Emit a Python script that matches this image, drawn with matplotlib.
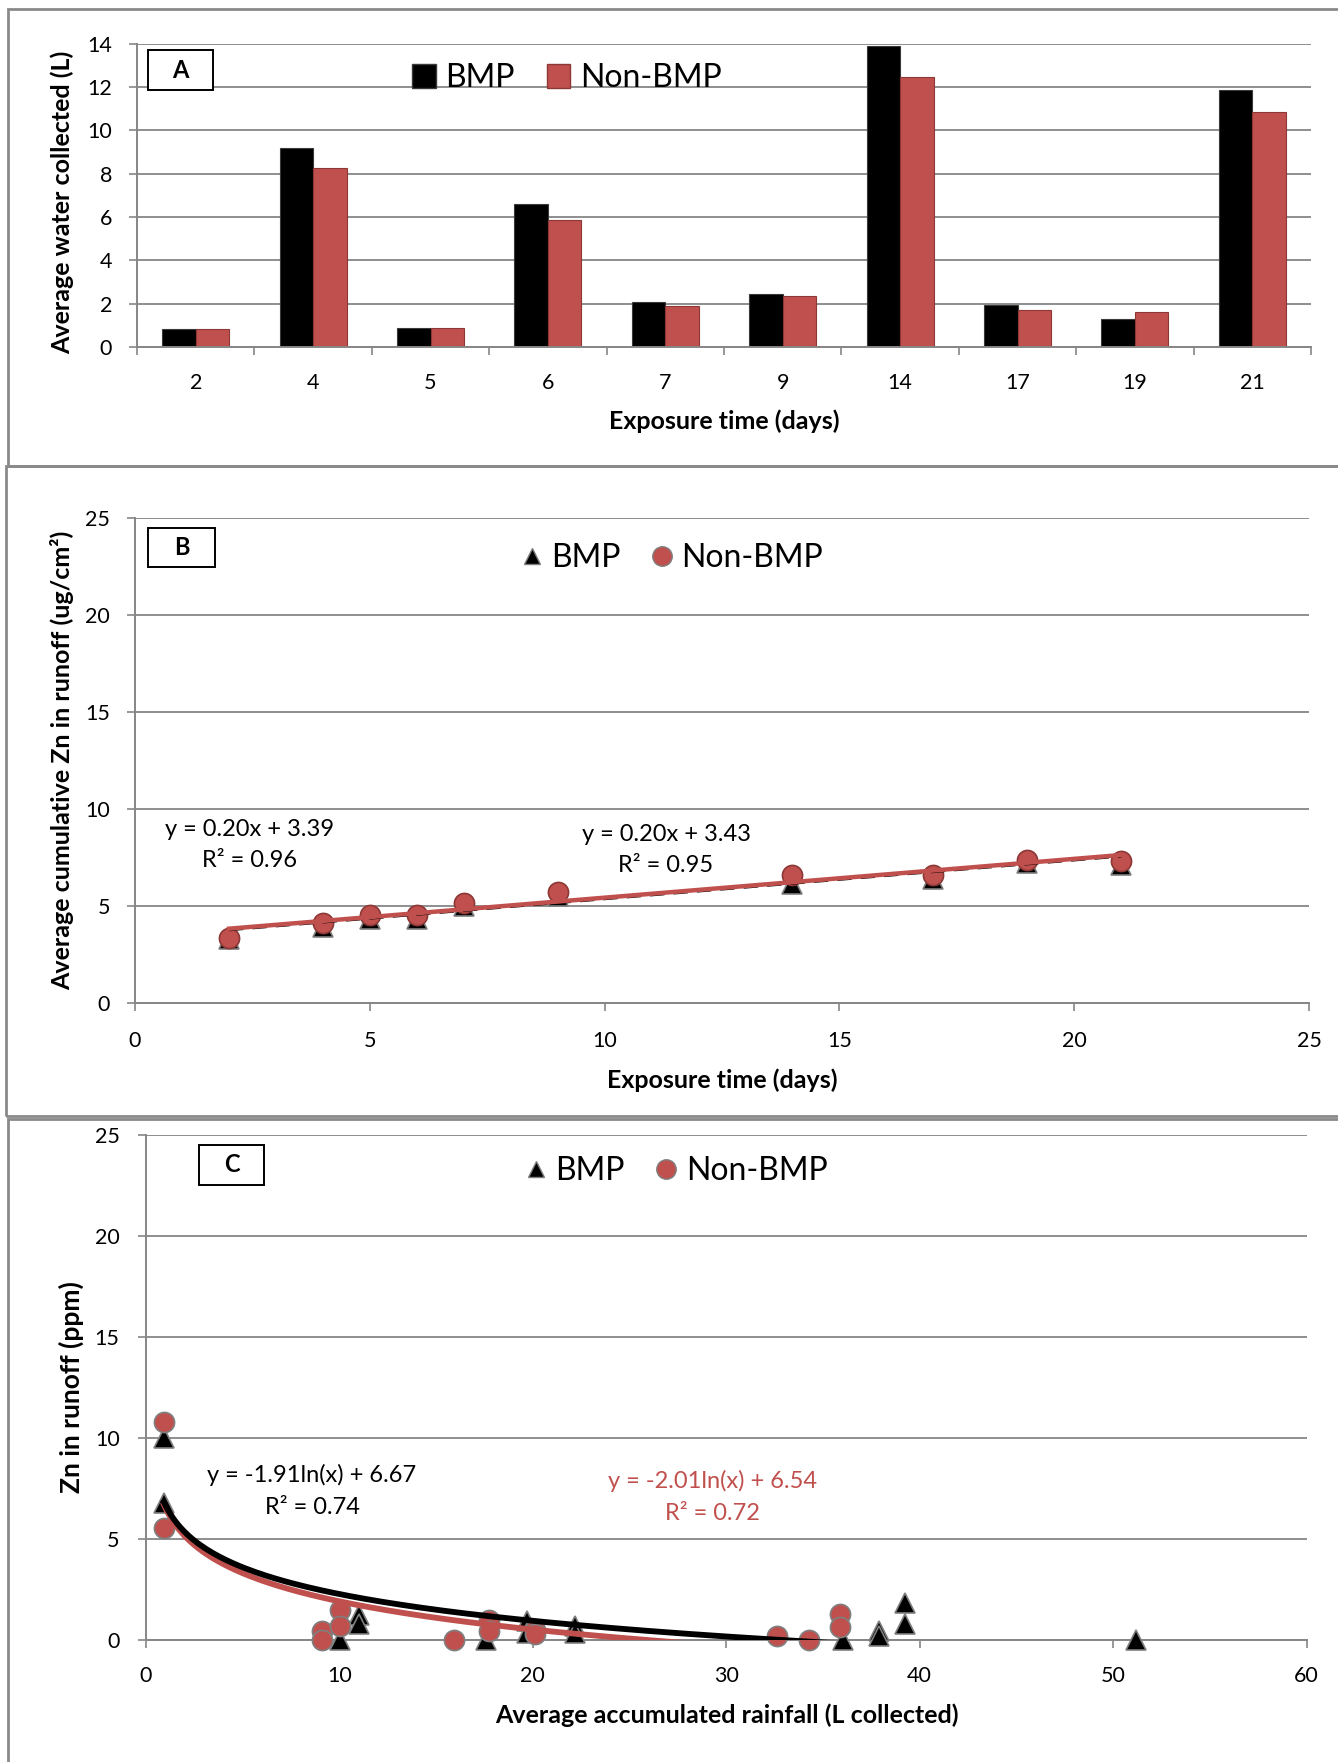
import numpy as np
import matplotlib.pyplot as plt
from matplotlib.patches import Patch, Rectangle
from matplotlib.lines import Line2D

plt.rcParams['font.family'] = ['Lato', 'DejaVu Sans']

# ---- data ----
days = ['2', '4', '5', '6', '7', '9', '14', '17', '19', '21']
water_bmp = [0.85, 9.2, 0.88, 6.6, 2.06, 2.43, 13.88, 1.94, 1.31, 11.86]
water_non = [0.82, 8.25, 0.88, 5.86, 1.91, 2.36, 12.46, 1.72, 1.62, 10.84]

days_num = [2, 4, 5, 6, 7, 9, 14, 17, 19, 21]
zn_bmp = [3.3, 3.9, 4.35, 4.35, 5.0, 5.5, 6.13, 6.4, 7.2, 7.1]
zn_non = [3.36, 4.12, 4.55, 4.52, 5.17, 5.72, 6.62, 6.58, 7.38, 7.33]
fit_b_bmp = (0.20, 3.39)
fit_b_non = (0.20, 3.43)

rain_bmp = [0.93, 0.93, 10.05, 11.0, 11.0, 17.6, 19.7, 19.7, 22.2, 22.2, 36.05, 37.9, 37.9, 39.25, 39.25, 51.2]
ppm_bmp = [10.0, 6.8, 0.0, 1.25, 0.8, 0.0, 0.95, 0.35, 0.7, 0.35, 0.0, 0.45, 0.2, 1.85, 0.8, 0.0]
rain_non = [0.93, 0.93, 9.1, 9.1, 10.05, 10.05, 15.9, 17.75, 17.75, 20.1, 20.1, 32.6, 34.3, 35.9, 35.9]
ppm_non = [10.8, 5.55, 0.45, 0.0, 1.5, 0.7, 0.0, 1.0, 0.45, 0.5, 0.3, 0.18, 0.02, 1.3, 0.65]
fit_c_bmp = (-1.91, 6.67)
fit_c_non = (-2.01, 6.54)

RED = '#C0504D'
GRID = '#868686'
W, H = 1338, 1762


def fx(x):
    return x / W


def fy(y):
    return 1 - y / H


def add_ax(x0, x1, y0, y1):
    ax = fig.add_axes([fx(x0), fy(y1), (x1 - x0) / W, (y1 - y0) / H])
    for s in ['top', 'right']:
        ax.spines[s].set_visible(False)
    for s in ['left', 'bottom']:
        ax.spines[s].set_color(GRID)
        ax.spines[s].set_linewidth(1.4)
    ax.tick_params(direction='out', length=6, width=1.2, color=GRID, labelsize=15.5)
    ax.grid(axis='y', color=GRID, lw=1.3)
    ax.set_axisbelow(True)
    return ax


def frame(x0, y0, x1, y1):
    fig.add_artist(Rectangle((fx(x0), fy(y1)), (x1 - x0) / W, (y1 - y0) / H,
                             transform=fig.transFigure, fill=False, ec='#8a8a8a', lw=2))


def letter_box(x0, y0, x1, y1, s):
    fig.add_artist(Rectangle((fx(x0), fy(y1)), (x1 - x0) / W, (y1 - y0) / H,
                             transform=fig.transFigure, fc='white', ec='black', lw=1.4, zorder=5))
    fig.text(fx((x0 + x1) / 2), fy((y0 + y1) / 2), s, ha='center', va='center',
             fontsize=17, fontweight='bold', zorder=6)


def marker_legend(ax, anchor):
    ax.legend(handles=[Line2D([], [], ls='none', marker='^', ms=12, mfc='black', mec='#7f7f7f'),
                       Line2D([], [], ls='none', marker='o', ms=14, mfc=RED, mec='#7f7f7f')],
              labels=['BMP', 'Non-BMP'], loc='center', bbox_to_anchor=anchor,
              ncol=2, frameon=False, fontsize=23, handlelength=0.6,
              handletextpad=0.3, columnspacing=1.0)


fig = plt.figure(figsize=(W / 100, H / 100), dpi=100)

frame(8, 9, 1345, 466)
frame(6, 466, 1345, 1116)
frame(8, 1119, 1345, 1770)

# ---- panel A ----
ax = add_ax(137, 1311, 43.8, 347)
x = np.arange(len(days))
w = 0.286
ax.bar(x - w / 2, water_bmp, w, color='black', ec='#3a3a3a', lw=0.8, label='BMP')
ax.bar(x + w / 2, water_non, w, color=RED, ec='#8c3836', lw=0.8, label='Non-BMP')
ax.set_xlim(-0.5, len(days) - 0.5)
ax.set_ylim(0, 14)
ax.set_yticks(range(0, 15, 2))
ax.set_xticks(np.arange(-0.5, len(days), 1))
ax.set_xticklabels([])
ax.set_xticks(x, minor=True)
ax.set_xticklabels(days, minor=True)
ax.tick_params(axis='x', which='minor', length=0, pad=19, labelsize=15.5)
ax.tick_params(axis='y', pad=12)
ax.legend(handles=[Patch(fc='black', ec='#3a3a3a'), Patch(fc=RED, ec='#8c3836')],
          labels=['BMP', 'Non-BMP'], loc='center', bbox_to_anchor=(0.366, 0.887),
          ncol=2, frameon=False, fontsize=23, handlelength=0.75, handleheight=0.75,
          handletextpad=0.3, columnspacing=1.0)
fig.text(fx(724), fy(421), 'Exposure time (days)', ha='center', va='center',
         fontsize=18, fontweight='bold')
fig.text(fx(62), fy(202), 'Average water collected (L)', ha='center', va='center',
         rotation=90, fontsize=18, fontweight='bold')
letter_box(148, 50, 213, 90, 'A')

# ---- panel B ----
ax = add_ax(135, 1309, 518, 1003)
ax.set_xlim(0, 25)
ax.set_ylim(0, 25)
ax.set_xticks(range(0, 26, 5))
ax.set_yticks(range(0, 26, 5))
ax.tick_params(axis='x', pad=14)
ax.tick_params(axis='y', pad=12)
ax.plot(days_num, zn_bmp, ls='none', marker='^', ms=14, mfc='black', mec='#7f7f7f',
        mew=1.2, zorder=3)
ax.plot(days_num, zn_non, ls='none', marker='o', ms=14.5, mfc=RED, mec='#8c3836',
        mew=1.2, zorder=4)
xl = np.array([min(days_num), max(days_num)])
ax.plot(xl, fit_b_bmp[0] * xl + fit_b_bmp[1], color='black', lw=2.6,
        dashes=(4, 2.5), zorder=5)
ax.plot(xl, fit_b_non[0] * xl + fit_b_non[1], color=RED, lw=3.2, zorder=6)
marker_legend(ax, (0.458, 0.918))
fig.text(fx(250), fy(845), 'y = 0.20x + 3.39\nR² = 0.96', ha='center', va='center',
         fontsize=17, linespacing=1.6)
fig.text(fx(666), fy(850), 'y = 0.20x + 3.43\nR² = 0.95', ha='center', va='center',
         fontsize=17, linespacing=1.6)
fig.text(fx(722), fy(1080), 'Exposure time (days)', ha='center', va='center',
         fontsize=18, fontweight='bold')
fig.text(fx(62), fy(760), 'Average cumulative Zn in runoff (ug/cm²)', ha='center',
         va='center', rotation=90, fontsize=18, fontweight='bold')
letter_box(148, 528, 215, 567, 'B')

# ---- panel C ----
ax = add_ax(146, 1306.5, 1134.6, 1640)
ax.set_xlim(0, 60)
ax.set_ylim(0, 25)
ax.set_xticks(range(0, 61, 10))
ax.set_yticks(range(0, 26, 5))
ax.tick_params(axis='x', pad=13)
ax.tick_params(axis='y', pad=13)
ax.plot(rain_bmp, ppm_bmp, ls='none', marker='^', ms=14, mfc='black', mec='#7f7f7f',
        mew=1.2, zorder=3, clip_on=False)
ax.plot(rain_non, ppm_non, ls='none', marker='o', ms=14.5, mfc=RED, mec='#7f7f7f',
        mew=1.2, zorder=4, clip_on=False)
xr = np.linspace(min(rain_non), max(rain_non), 300)
ax.plot(xr, fit_c_non[0] * np.log(xr) + fit_c_non[1], color=RED, lw=4.2, zorder=5)
xb = np.linspace(min(rain_bmp), max(rain_bmp), 300)
ax.plot(xb, fit_c_bmp[0] * np.log(xb) + fit_c_bmp[1], color='black', lw=4.2, zorder=5)
marker_legend(ax, (0.4576, 0.928))
fig.text(fx(312), fy(1491), 'y = -1.91ln(x) + 6.67\nR² = 0.74', ha='center', va='center',
         fontsize=17, linespacing=1.6)
fig.text(fx(712), fy(1497), 'y = -2.01ln(x) + 6.54\nR² = 0.72', ha='center', va='center',
         fontsize=17, linespacing=1.6, color=RED)
fig.text(fx(727), fy(1715), 'Average accumulated rainfall (L collected)', ha='center',
         va='center', fontsize=18, fontweight='bold')
fig.text(fx(71), fy(1387), 'Zn in runoff (ppm)', ha='center', va='center',
         rotation=90, fontsize=19, fontweight='bold')
letter_box(199, 1145, 264, 1185, 'C')

fig.savefig('out.png', dpi=100)
